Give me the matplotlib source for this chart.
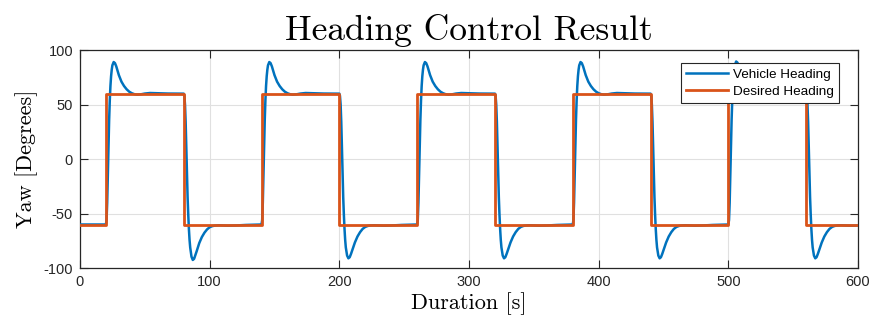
import matplotlib
matplotlib.use("Agg")
import matplotlib.pyplot as plt
import numpy as np

# desired heading (step signal)
desired_t = [0, 20, 80, 140, 200, 260, 320, 380, 440, 500, 560, 600]
desired_yaw = [-60, 60, -60, 60, -60, 60, -60, 60, -60, 60, -60, -60]

# vehicle heading (seconds after each step)
response_dt = [0, 0.5, 1, 1.5, 2, 2.5, 3, 3.5, 4, 4.5, 5, 6, 7, 8, 9, 10,
               12, 14, 16, 18, 20, 22, 24, 27, 30, 34, 40, 48, 60]

start_t = [0, 20]
start_yaw = [-60, -60]

up_1 = [-60, -56, -40, -15, 12, 36, 54, 67, 76, 82, 86, 89, 88, 85, 81, 77,
        71, 67, 64, 61.8, 60.4, 59.5, 59.1, 59.4, 60.1, 60.6, 60.4, 60.1, 60]
down_1 = [60, 58, 50, 34, 10, -14, -35, -51, -64, -74, -81, -89.5, -92.5, -91.5, -88, -84.5,
          -77, -71.5, -67.5, -64.5, -62.5, -61.5, -61, -60.7, -60.9, -61.1, -60.9, -60.4, -60]
up_2 = [-60, -56, -40, -15, 12, 36, 54, 67, 76, 82, 86, 89, 88, 85, 81, 77,
        71, 67, 64, 61.8, 60.4, 59.5, 59.1, 59.4, 60.1, 60.6, 60.4, 60.1, 60]
down_2 = [60, 58, 50, 34, 10, -14, -35, -51, -64, -74, -81, -88.5, -91, -90, -87, -83.5,
          -76.5, -71, -67, -64, -62.2, -61.3, -60.9, -60.7, -60.9, -61.1, -60.9, -60.4, -60]
up_3 = [-60, -56, -40, -15, 12, 36, 54, 67, 76, 82, 86, 89, 88, 85, 81, 77,
        71, 67, 64, 61.8, 60.4, 59.5, 59.1, 59.4, 60.1, 60.6, 60.4, 60.1, 60]
down_3 = [60, 58, 50, 34, 10, -14, -35, -51, -64, -74, -81, -88.5, -91, -90, -87, -83.5,
          -76.5, -71, -67, -64, -62.2, -61.3, -60.9, -60.7, -60.9, -61.1, -60.9, -60.4, -60]
up_4 = [-60, -56, -40, -15, 12, 36, 54, 67, 76, 82, 86, 89, 88, 85, 81, 77,
        71, 67, 64, 61.8, 60.4, 59.5, 59.1, 59.4, 60.1, 60.6, 60.4, 60.1, 60]
down_4 = [60, 58, 50, 34, 10, -14, -35, -51, -64, -74, -81, -88.5, -91, -90, -87, -83.5,
          -76.5, -71, -67, -64, -62.2, -61.3, -60.9, -60.7, -60.9, -61.1, -60.9, -60.4, -60]
up_5 = [-60, -56, -40, -15, 12, 36, 54, 67, 76, 82, 86, 89.5, 88.5, 85, 81, 77,
        71, 67, 64, 61.8, 60.4, 59.5, 59.1, 59.4, 60.1, 60.6, 60.4, 60.1, 60]
down_5 = [60, 58, 50, 34, 10, -14, -35, -51, -64, -74, -81, -88.5, -91, -90, -87, -83.5,
          -76.5, -71, -67, -64, -62.2, -61.3, -60.9, -60.7, -60.9, -61.1, -60.9]

responses = [up_1, down_1, up_2, down_2, up_3, down_3, up_4, down_4, up_5, down_5]

vehicle_t = list(start_t)
vehicle_yaw = list(start_yaw)
for step_t, resp in zip(desired_t[1:-1], responses):
    for dt, y in zip(response_dt, resp):
        vehicle_t.append(step_t + dt)
        vehicle_yaw.append(y)

plt.rcParams['axes.unicode_minus'] = False
tick_font = 'Liberation Sans'
label_font = 'cmr10'

fig = plt.figure(figsize=(8.72, 3.25), dpi=100)
ax = fig.add_axes([0.0917, 0.175, 0.8923, 0.671])

ax.plot(vehicle_t, vehicle_yaw, color='#0072BD', lw=1.8, label='Vehicle Heading', zorder=3)
ax.plot(desired_t, desired_yaw, color='#D95319', lw=2.0, drawstyle='steps-post',
        label='Desired Heading', zorder=4)

ax.set_xlim(0, 600)
ax.set_ylim(-100, 100)
ax.set_xticks(np.arange(0, 601, 100))
ax.set_yticks(np.arange(-100, 101, 50))
ax.grid(True, color='#e0e0e0', lw=0.8)
ax.set_axisbelow(True)

ax.tick_params(direction='in', length=5.5, width=0.8, colors='#262626',
               top=True, right=True, labelsize=10.5, pad=5)
for lab in ax.get_xticklabels() + ax.get_yticklabels():
    lab.set_fontfamily(tick_font)
for sp in ax.spines.values():
    sp.set_color('#262626')
    sp.set_linewidth(0.9)

ax.set_title('Heading Control Result', fontfamily=label_font, fontsize=25.5, pad=7)
ax.set_xlabel('Duration [s]', fontfamily=label_font, fontsize=16, labelpad=2)
ax.set_ylabel('Yaw [Degrees]', fontfamily=label_font, fontsize=16, labelpad=4)

# legend box sits at roughly x=681..847, y=63..101 px in the reference
leg = ax.legend(loc='upper left', bbox_to_anchor=(0.7725, 0.939), borderaxespad=0,
                fancybox=False, framealpha=1, edgecolor='#262626', handlelength=3.1,
                prop={'family': tick_font, 'size': 9.7}, borderpad=0.4,
                labelspacing=0.3, handletextpad=0.35)
leg.get_frame().set_linewidth(0.8)
leg.set_zorder(10)

fig.savefig('out.png', dpi=100)
